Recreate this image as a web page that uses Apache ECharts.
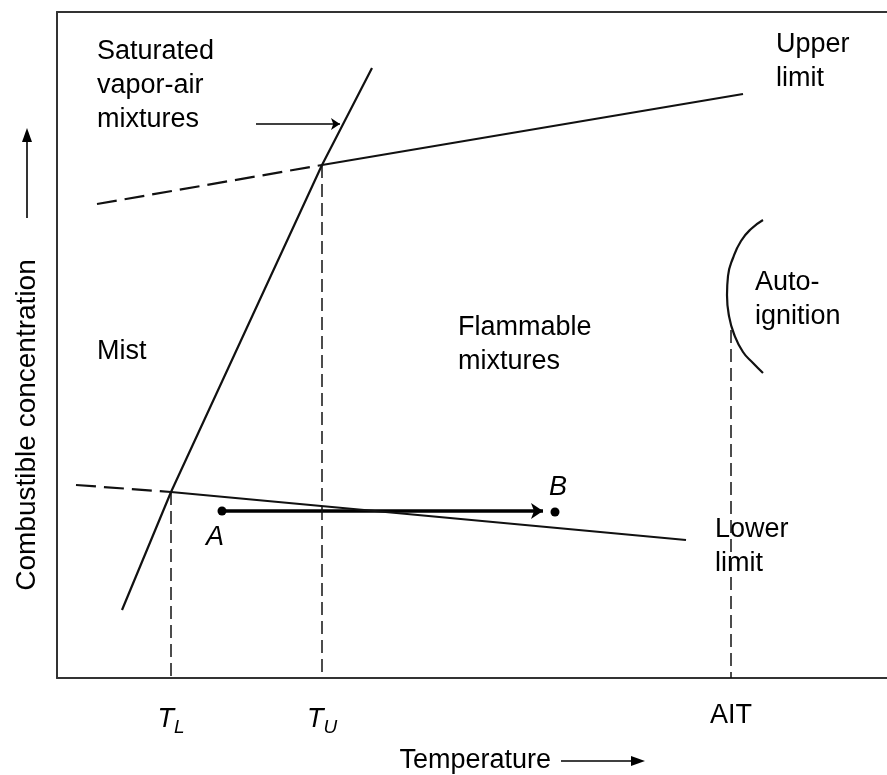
<!DOCTYPE html>
<html>
<head>
<meta charset="utf-8">
<script src="https://cdn.jsdelivr.net/npm/echarts@6/dist/echarts.min.js"></script>
<style>html,body{margin:0;padding:0;background:#fff}#c{width:887px;height:775px}</style>
</head>
<body>
<div id="c"></div>
<script>
// Schematic coordinates (temperature, concentration) in arbitrary units
const saturationX = [65, 114, 265, 315];
const saturationY = [68, 186, 513, 610];
const upperDashX = [40, 265];
const upperDashY = [474, 513];
const upperSolidX = [265, 686];
const upperSolidY = [513, 584];
const lowerDashX = [19, 114];
const lowerDashY = [193, 186];
const lowerSolidX = [114, 629];
const lowerSolidY = [186, 138];
const autoArcX = [706, 694, 684, 676, 671, 670, 672, 677, 686, 696, 706];
const autoArcY = [458, 449, 437, 420, 402, 383, 362, 344, 326, 315, 305];
const tickValues = [114, 265, 674];
const tickLabels = ['{t|T}{s|L}', '{t|T}{s|U}', 'AIT'];
const dropTops = [186, 513, 348];
const pointNames = ['A', 'B'];
const pointX = [165, 498];
const pointY = [167, 166];
const arrowEnd = [486, 167];
const annoText = ['Saturated\nvapor-air\nmixtures', 'Upper\nlimit', 'Mist', 'Flammable\nmixtures', 'Auto-\nignition', 'Lower\nlimit'];
const annoX = [40, 719, 40, 401, 698, 658];
const annoY = [592, 616, 326, 333, 378, 131];
const pointLabelX = [149, 492];
const pointLabelY = [141, 191];
const satArrowX = [199, 283];
const satArrowY = [554, 554];

const FONT = 'Liberation Sans, Arial, sans-serif';
const INK = '#000';
const AXIS = '#333';
const chart = echarts.init(document.getElementById('c'), null, {renderer: 'canvas'});
const zip = (xs, ys) => xs.map((x, i) => [x, ys[i]]);
const lineS = (xs, ys, type, width, extra) => Object.assign({
  type: 'line', data: zip(xs, ys), symbol: 'none', silent: true, animation: false,
  lineStyle: {color: '#111', width: width, type: type}
}, extra || {});

const series = [
  lineS(saturationX, saturationY, 'solid', 2.2),
  lineS(upperDashX, upperDashY, [20, 8], 2.2),
  lineS(upperSolidX, upperSolidY, 'solid', 2.2),
  lineS(lowerDashX, lowerDashY, [20, 8], 2.2),
  lineS(lowerSolidX, lowerSolidY, 'solid', 2.2),
  lineS(autoArcX, autoArcY, 'solid', 2.2, {smooth: true})
];
tickValues.forEach((v, i) => {
  series.push(lineS([v, v], [dropTops[i], 0], [13, 6], 1.5));
});
series.push({
  type: 'lines', coordinateSystem: 'cartesian2d', silent: true, animation: false,
  symbol: ['none', 'arrow'], symbolSize: 12,
  lineStyle: {color: '#000', width: 3.5, opacity: 1},
  data: [{coords: [[pointX[0], pointY[0]], arrowEnd]}]
});
series.push({
  type: 'lines', coordinateSystem: 'cartesian2d', silent: true, animation: false,
  symbol: ['none', 'arrow'], symbolSize: 9,
  lineStyle: {color: '#000', width: 1.6, opacity: 1},
  data: [{coords: zip(satArrowX, satArrowY)}]
});
series.push({
  type: 'scatter', silent: true, animation: false, symbolSize: 9,
  itemStyle: {color: '#000', opacity: 1},
  data: zip(pointX, pointY)
});
series.push({
  type: 'scatter', silent: true, animation: false, symbolSize: 0,
  itemStyle: {opacity: 1},
  data: annoText.map((t, i) => ({value: [annoX[i], annoY[i]], name: t,
    label: t.indexOf('Lower') === 0 ? {backgroundColor: '#fff', padding: [2, 0, 2, 0]} : {}})),
  label: {show: true, position: 'right', distance: 0, formatter: p => p.name,
    fontFamily: FONT, fontSize: 27, lineHeight: 34, color: INK}
});
series.push({
  type: 'scatter', silent: true, animation: false, symbolSize: 0,
  itemStyle: {opacity: 1},
  data: pointNames.map((t, i) => ({value: [pointLabelX[i], pointLabelY[i]], name: t})),
  label: {show: true, position: 'right', distance: 0, formatter: p => p.name,
    fontFamily: FONT, fontSize: 27, fontStyle: 'italic', color: INK}
});

chart.setOption({
  animation: false,
  backgroundColor: '#fff',
  grid: {left: 57, top: 12, right: 0, bottom: 97},
  xAxis: [{
    type: 'value', min: 0, max: 830, position: 'bottom',
    axisLine: {show: true, lineStyle: {color: AXIS, width: 2}}, axisTick: {show: false}, splitLine: {show: false},
    axisLabel: {
      customValues: tickValues, margin: 24,
      formatter: v => tickLabels[tickValues.indexOf(v)] || '',
      fontFamily: FONT, fontSize: 27, color: INK,
      rich: {
        t: {fontFamily: FONT, fontSize: 27, fontStyle: 'italic', color: INK},
        s: {fontFamily: FONT, fontSize: 19, fontStyle: 'italic', color: INK, padding: [16, 0, 0, 0]}
      }
    }
  }, {
    type: 'value', min: 0, max: 830, position: 'top',
    axisLine: {show: true, lineStyle: {color: AXIS, width: 2}}, axisTick: {show: false}, splitLine: {show: false}, axisLabel: {show: false}
  }],
  yAxis: {
    type: 'value', min: 0, max: 666,
    axisLine: {show: true, lineStyle: {color: AXIS, width: 2}}, axisTick: {show: false}, splitLine: {show: false}, axisLabel: {show: false}
  },
  graphic: [
    {type: 'text', x: 551, y: 761, silent: true,
      style: {text: 'Temperature', font: '27px ' + FONT, fill: INK, textAlign: 'right', textVerticalAlign: 'middle'}},
    {type: 'line', silent: true, shape: {x1: 561, y1: 761, x2: 635, y2: 761}, style: {stroke: '#000', lineWidth: 1.6}},
    {type: 'polygon', silent: true, shape: {points: [[645, 761], [631, 756], [631, 766]]}, style: {fill: '#000'}},
    {type: 'text', x: 27, y: 425, rotation: Math.PI / 2, silent: true,
      style: {text: 'Combustible concentration', font: '28px ' + FONT, fill: INK, textAlign: 'center', textVerticalAlign: 'middle'}},
    {type: 'line', silent: true, shape: {x1: 27, y1: 218, x2: 27, y2: 140}, style: {stroke: '#000', lineWidth: 1.6}},
    {type: 'polygon', silent: true, shape: {points: [[27, 128], [22, 142], [32, 142]]}, style: {fill: '#000'}}
  ],
  series: series
});
</script>
</body>
</html>
